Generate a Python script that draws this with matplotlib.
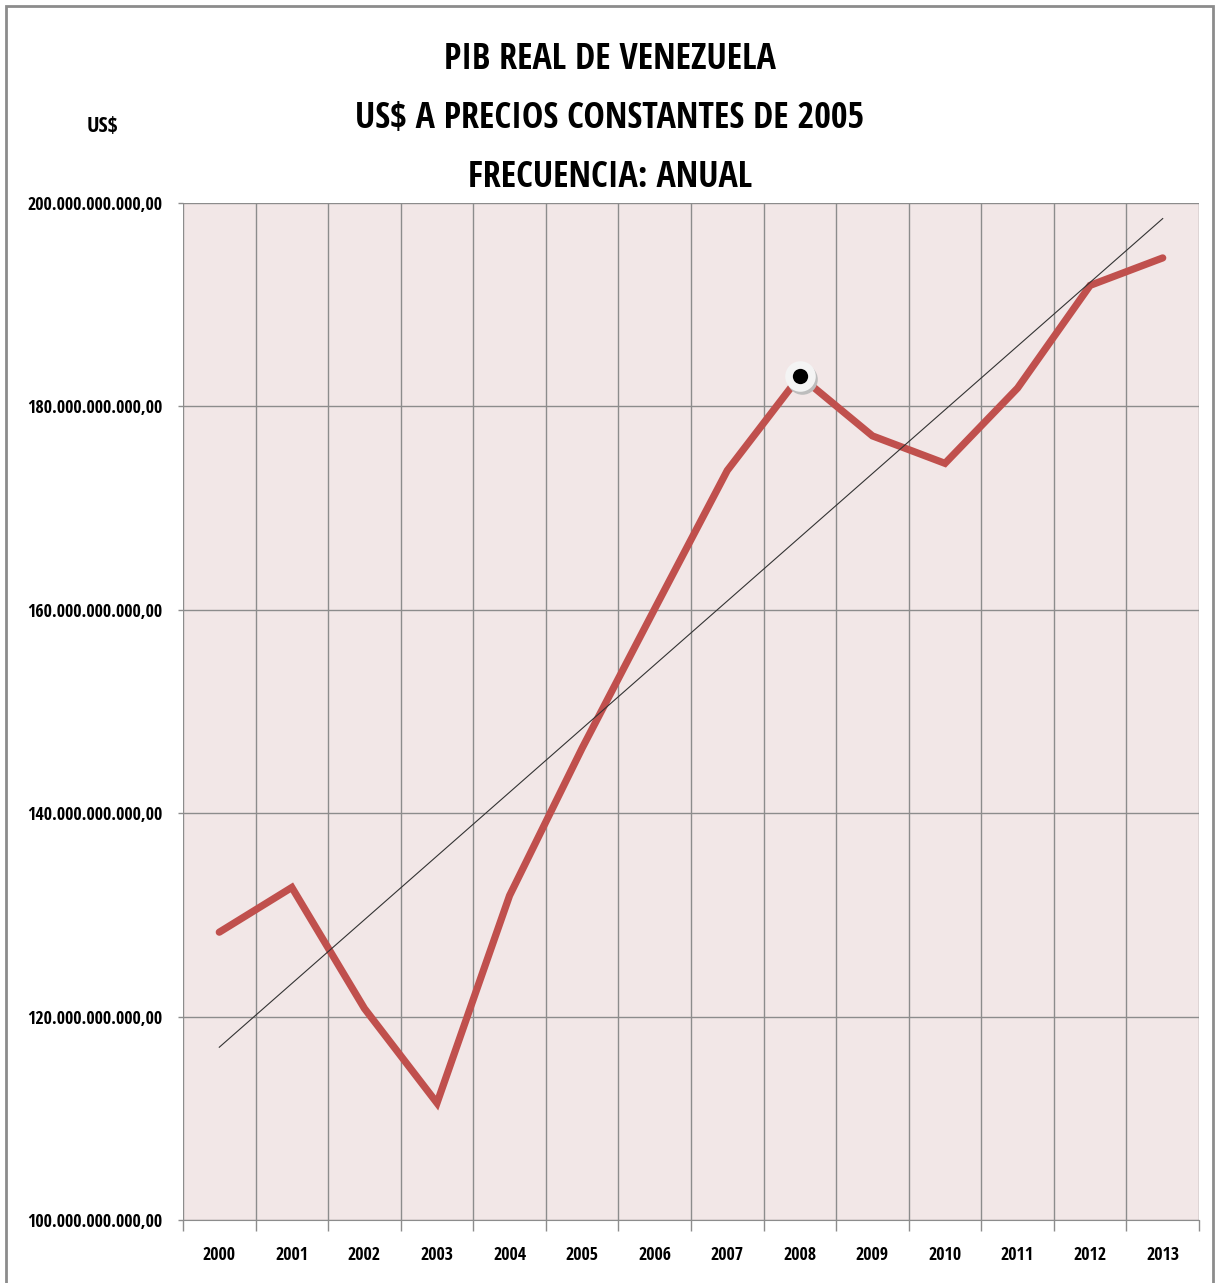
import matplotlib
matplotlib.use("Agg")
import matplotlib.pyplot as plt
import matplotlib.transforms as mtransforms
from matplotlib.patches import Rectangle
from matplotlib.ticker import FixedLocator, FuncFormatter
import numpy as np

plt.rcParams['font.family'] = ['Open Sans Condensed', 'Carlito', 'DejaVu Sans']

years = ["2000", "2001", "2002", "2003", "2004", "2005", "2006",
         "2007", "2008", "2009", "2010", "2011", "2012", "2013"]
pib = [128.3, 132.7, 120.8, 111.5, 131.9, 146.4, 160.1,
       173.7, 183.0, 177.1, 174.4, 181.8, 191.9, 194.6]  # miles de millones US$
pib = np.array(pib) * 1e9
highlight = "2008"

title_lines = ["PIB REAL DE VENEZUELA",
               "US$ A PRECIOS CONSTANTES DE 2005",
               "FRECUENCIA: ANUAL"]


def fmt_es(v, pos):
    s = "{:,.2f}".format(v)
    return s.replace(",", "X").replace(".", ",").replace("X", ".")


if __name__ == "__main__":
    fig = plt.figure(figsize=(12.2, 12.83), dpi=100)
    ax = fig.add_axes([183 / 1220, 63 / 1283, 1016 / 1220, 1017 / 1283])
    ax.set_facecolor("#F2E7E7")

    x = np.arange(len(years))
    ax.plot(x, pib, color="#C0504D", lw=5.2, solid_capstyle="round",
            solid_joinstyle="miter", zorder=3)

    # linea de tendencia lineal
    coef = np.polyfit(x, pib, 1)
    ax.plot(x, np.polyval(coef, x), color="#333333", lw=0.8, zorder=4)

    # punto resaltado
    i = years.index(highlight)
    shadow = mtransforms.offset_copy(ax.transData, fig=fig, x=2, y=-3, units="dots")
    ax.plot(x[i], pib[i], "o", ms=22, color="#BDBDBD", mec="none",
            transform=shadow, zorder=5)
    ax.plot(x[i], pib[i], "o", ms=22, color="#F4F4F4", mec="none", zorder=6)
    ax.plot(x[i], pib[i], "o", ms=11, color="black", mec="none", zorder=7)

    ax.set_xlim(-0.5, len(years) - 0.5)
    ax.set_ylim(100e9, 200e9)
    ax.set_xticks(x)
    ax.set_xticklabels(years)
    ax.xaxis.set_minor_locator(FixedLocator(np.arange(len(years) + 1) - 0.5))
    ax.tick_params(axis="x", which="major", length=0, pad=19)
    ax.tick_params(axis="x", which="minor", length=8, color="#8C8C8C", width=1)
    ax.set_yticks(np.arange(100e9, 200e9 + 1, 20e9))
    ax.yaxis.set_major_formatter(FuncFormatter(fmt_es))
    ax.tick_params(axis="y", length=3.6, color="#8C8C8C", width=1, pad=11)
    for lab in ax.get_xticklabels() + ax.get_yticklabels():
        lab.set_fontweight("bold")
        lab.set_fontsize(13)

    ax.grid(True, axis="y", which="major", color="#8C8C8C", lw=1)
    ax.grid(True, axis="x", which="minor", color="#8C8C8C", lw=1)
    ax.set_axisbelow(True)
    for side in ["top", "right"]:
        ax.spines[side].set_visible(False)
    ax.spines["left"].set_visible(False)
    ax.spines["bottom"].set_color("#8C8C8C")

    for k, line in enumerate(title_lines):
        fig.text(610 / 1220, 1 - (60 + 59 * k) / 1283, line, ha="center", va="center",
                 fontsize=26, fontweight="bold")
    fig.text(102 / 1220, 1 - 126 / 1283, "US$", ha="center", va="center",
             fontsize=16, fontweight="bold")

    fig.patches.append(Rectangle((6 / 1220, -0.01), 1207 / 1220, 1 - 6 / 1283 + 0.01,
                                 transform=fig.transFigure, fill=False,
                                 edgecolor="#8C8C8C", lw=2))

    fig.savefig("out.png", dpi=100)
